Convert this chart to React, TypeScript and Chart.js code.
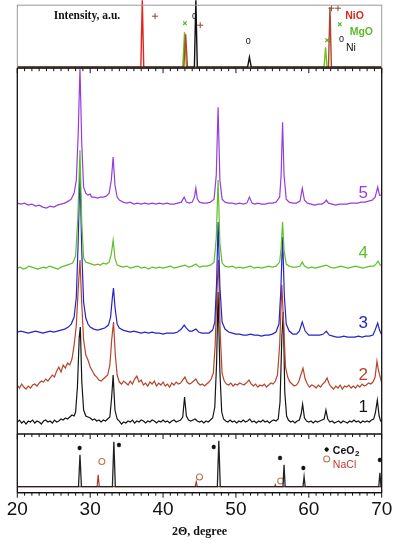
import React, { useEffect, useRef } from 'react';
import { Chart, registerables } from 'chart.js';

Chart.register(...registerables);

type Pt = [number, number];

// ---------- axis ----------
const X_MIN = 20;
const X_MAX = 70;
const X_TITLE = '2Θ, degree';

// ---------- top reference panel (NiO, MgO, Ni) ----------
const nioRef: Pt[] = [[20, 0], [36.95, 0], [37.15, 67], [37.35, 0], [42.85, 0], [43.1, 33], [43.35, 0], [62.7, 0], [62.9, 60], [63.1, 0], [70, 0]];
const mgoRef: Pt[] = [[20, 0], [42.7, 0], [42.95, 35], [43.2, 0], [62.1, 0], [62.3, 20], [62.5, 0], [70, 0]];
const niRef: Pt[] = [[20, 0], [44.3, 0], [44.5, 67], [44.7, 0], [51.6, 0], [51.85, 10], [52.1, 0], [70, 0]];
const nioMarks: Pt[] = [[38.9, 51], [45.1, 42], [63.1, 59], [64.0, 59]];
const mgoMarks: Pt[] = [[43.0, 44], [62.5, 27], [64.25, 43]];
const niMarks: Pt[] = [[44.3, 51], [51.7, 26], [64.5, 28]];

// ---------- main panel: samples 1..5 ----------
const sampleNames = ['1', '2', '3', '4', '5'];
const sampleOffsets = [12, 49, 102, 166, 229];

const sample1: Pt[] = [[20, 0], [20.3, 2], [20.6, -1], [20.9, 1], [21.2, -2], [21.5, 1], [21.8, 0], [22.1, 2], [22.4, -1], [22.7, 1], [23, 0], [23.3, -2], [23.6, 1], [23.9, 2], [24.2, 0], [24.5, 1], [24.8, -1], [25.1, 2], [25.4, 0], [25.7, 1], [26, 3], [26.3, 2], [26.6, 4], [26.9, 3], [27.2, 5], [27.5, 7], [27.8, 6], [28, 10], [28.25, 35], [28.5, 85], [28.65, 95], [28.85, 40], [29.1, 12], [29.4, 6], [29.7, 5], [30, 4], [30.3, 2], [30.6, 3], [30.9, 1], [31.2, 2], [31.5, 0], [31.8, 2], [32.1, 1], [32.4, 3], [32.7, 5], [32.95, 25], [33.15, 47], [33.4, 12], [33.7, 3], [34, 1], [34.3, -2], [34.6, 0], [34.9, -1], [35.2, 1], [35.5, 0], [35.8, 2], [36.1, -1], [36.4, 1], [36.7, 0], [37, 2], [37.3, 1], [37.6, -1], [37.9, 1], [38.2, 0], [38.5, 2], [38.8, 1], [39.1, -1], [39.4, 1], [39.7, 0], [40, 2], [40.3, 0], [40.6, 1], [40.9, -1], [41.2, 1], [41.5, 2], [41.8, 0], [42.1, 1], [42.4, 2], [42.7, 5], [42.95, 25], [43.2, 6], [43.5, 2], [43.8, 1], [44.1, 2], [44.4, 3], [44.7, 1], [45, 0], [45.3, 1], [45.6, -1], [45.9, 1], [46.2, 0], [46.5, 2], [46.8, 4], [47.1, 15], [47.35, 60], [47.55, 130], [47.8, 50], [48.05, 10], [48.3, 3], [48.6, 1], [48.9, 0], [49.2, 2], [49.5, 0], [49.8, 1], [50.1, -1], [50.4, 1], [50.7, 0], [51, 2], [51.3, 0], [51.6, 1], [51.9, 3], [52.2, 0], [52.5, 1], [52.8, -1], [53.1, 1], [53.4, 0], [53.7, 2], [54, 0], [54.3, 1], [54.6, -1], [54.9, 1], [55.2, 2], [55.5, 1], [55.8, 3], [56.05, 20], [56.3, 85], [56.5, 110], [56.7, 30], [56.95, 6], [57.2, 2], [57.5, 0], [57.8, 1], [58.1, -1], [58.4, 1], [58.7, 2], [58.95, 8], [59.15, 18], [59.4, 4], [59.7, 1], [60, 0], [60.3, 1], [60.6, -1], [60.9, 1], [61.2, 0], [61.5, 1], [61.8, 2], [62.1, 3], [62.35, 12], [62.6, 3], [62.9, 0], [63.2, 1], [63.5, -1], [63.8, 0], [64.1, 1], [64.4, -1], [64.7, 1], [65, 0], [65.3, -1], [65.6, 1], [65.9, 0], [66.2, 2], [66.5, 0], [66.8, 1], [67.1, -1], [67.4, 1], [67.7, 0], [68, 1], [68.3, 0], [68.6, 2], [68.9, 3], [69.15, 10], [69.4, 22], [69.65, 6], [69.85, 1], [70, 0]];

const sample2: Pt[] = [[20, 0], [20.3, -3], [20.6, 1], [20.9, -2], [21.2, -4], [21.5, -1], [21.8, -3], [22.1, 0], [22.4, 1], [22.7, -1], [23, 2], [23.3, 4], [23.6, 3], [23.9, 6], [24.2, 4], [24.5, 7], [24.8, 10], [25.1, 8], [25.4, 14], [25.7, 18], [26, 13], [26.3, 20], [26.6, 17], [26.9, 22], [27.2, 20], [27.5, 26], [27.8, 40], [28.1, 60], [28.35, 95], [28.6, 125], [28.85, 80], [29.1, 45], [29.4, 30], [29.7, 25], [30, 18], [30.3, 14], [30.6, 10], [30.9, 8], [31.2, 5], [31.5, 4], [31.8, 6], [32.1, 8], [32.4, 10], [32.7, 20], [32.95, 45], [33.2, 63], [33.45, 30], [33.7, 10], [34, 3], [34.3, 1], [34.6, 4], [34.9, 2], [35.2, 0], [35.5, 4], [35.8, 1], [36.1, 6], [36.4, 9], [36.7, 3], [37, 5], [37.3, 0], [37.6, 2], [37.9, -1], [38.2, 3], [38.5, 1], [38.8, 4], [39.1, -1], [39.4, 2], [39.7, 0], [40, 3], [40.3, -1], [40.6, 1], [40.9, -2], [41.2, 2], [41.5, 0], [41.8, 3], [42.1, 1], [42.4, 2], [42.7, 5], [43, 8], [43.3, 3], [43.6, 1], [43.9, 2], [44.2, 4], [44.5, 6], [44.8, 2], [45.1, 0], [45.4, 1], [45.7, -1], [46, 1], [46.3, 3], [46.6, 6], [46.9, 12], [47.15, 40], [47.4, 95], [47.6, 125], [47.85, 50], [48.1, 12], [48.4, 4], [48.7, 1], [49, 0], [49.3, 2], [49.6, -1], [49.9, 1], [50.2, 0], [50.5, 2], [50.8, 1], [51.1, 0], [51.4, 2], [51.8, 5], [52.1, 1], [52.4, -1], [52.7, 1], [53, -2], [53.3, 0], [53.6, -1], [53.9, 1], [54.2, -2], [54.5, 0], [54.8, 2], [55.1, 1], [55.4, 4], [55.7, 10], [56, 40], [56.3, 100], [56.55, 60], [56.8, 18], [57.1, 8], [57.4, 3], [57.7, 1], [58, -1], [58.3, 0], [58.6, 3], [58.9, 10], [59.2, 17], [59.5, 6], [59.8, 1], [60.1, -2], [60.4, 0], [60.7, -1], [61, -3], [61.3, 0], [61.6, -2], [61.9, 1], [62.2, 3], [62.5, 7], [62.8, 1], [63.1, -2], [63.4, -4], [63.7, -1], [64, -3], [64.3, 0], [64.6, -4], [64.9, -1], [65.2, -2], [65.5, 0], [65.8, -3], [66.1, -1], [66.4, -3], [66.7, 0], [67, -2], [67.3, 1], [67.6, -1], [67.9, 0], [68.2, 2], [68.5, 1], [68.8, 3], [69.1, 8], [69.35, 24], [69.55, 15], [69.8, 8], [70, 2]];

const sample3: Pt[] = [[20, 0], [20.5, 1], [21, 0], [21.5, -1], [22, 0], [22.5, 1], [23, 0], [23.5, -1], [24, 0], [24.5, 1], [25, 0], [25.5, 1], [26, 2], [26.5, 3], [27, 5], [27.4, 8], [27.8, 15], [28.1, 35], [28.35, 90], [28.6, 160], [28.85, 80], [29.1, 30], [29.4, 14], [29.7, 8], [30, 5], [30.5, 3], [31, 2], [31.5, 3], [32, 4], [32.5, 7], [32.8, 15], [33.05, 35], [33.2, 44], [33.4, 25], [33.7, 8], [34, 4], [34.5, 2], [35, 1], [35.5, 0], [36, 1], [36.5, 0], [37, -1], [37.5, 0], [38, -1], [38.5, 0], [39, -1], [39.5, -1], [40, -2], [40.5, -1], [41, -1], [41.5, -1], [42, 0], [42.5, 3], [42.9, 7], [43.2, 4], [43.6, 1], [44, 1], [44.5, 3], [44.9, 0], [45.3, -1], [45.8, -1], [46.3, -1], [46.8, 2], [47.1, 10], [47.35, 50], [47.55, 110], [47.8, 45], [48.1, 10], [48.5, 3], [49, 0], [49.5, -1], [50, -2], [50.5, -2], [51, -3], [51.5, -3], [52, -2], [52.5, -3], [53, -3], [53.5, -4], [54, -3], [54.5, -3], [55, -2], [55.5, 0], [55.9, 8], [56.15, 40], [56.4, 95], [56.65, 35], [56.9, 8], [57.3, 1], [57.8, -2], [58.3, -2], [58.7, 1], [59.1, 10], [59.5, 1], [60, -3], [60.5, -3], [61, -3], [61.5, -3], [62, -2], [62.4, 1], [62.8, -3], [63.3, -4], [63.8, -5], [64.3, -5], [64.8, -4], [65.3, -5], [65.8, -5], [66.3, -5], [66.8, -4], [67.3, -5], [67.8, -4], [68.3, -4], [68.8, -3], [69.1, 2], [69.45, 9], [69.7, 2], [70, -3]];

const sample4: Pt[] = [[20, 0], [20.4, 1], [20.8, -1], [21.2, 0], [21.6, 2], [22, 1], [22.4, 0], [22.8, -1], [23.2, 0], [23.6, 1], [24, 0], [24.4, 2], [24.8, 1], [25.2, 0], [25.6, -1], [26, 1], [26.4, 2], [26.8, 3], [27.2, 4], [27.6, 5], [28, 12], [28.3, 50], [28.6, 118], [28.85, 45], [29.1, 10], [29.4, 6], [29.8, 5], [30.2, 4], [30.6, 3], [31, 4], [31.4, 3], [31.8, 5], [32.2, 4], [32.6, 6], [32.9, 14], [33.15, 28], [33.4, 10], [33.7, 3], [34.1, 2], [34.5, 1], [35, 2], [35.5, 0], [36, 1], [36.5, 2], [37, 0], [37.5, 1], [38, -1], [38.5, 1], [39, 0], [39.5, 1], [40, 0], [40.5, 1], [41, 2], [41.5, 0], [42, 1], [42.5, 2], [43, 3], [43.5, 1], [44, 2], [44.5, 4], [45, 1], [45.5, 2], [46, 2], [46.5, 3], [47, 6], [47.3, 30], [47.55, 88], [47.8, 25], [48.1, 5], [48.5, 2], [49, 1], [49.5, 2], [50, 0], [50.5, 1], [51, 0], [51.5, 1], [52, 2], [52.5, 0], [53, 1], [53.5, 0], [54, 1], [54.5, 2], [55, 1], [55.5, 2], [56, 6], [56.2, 20], [56.4, 46], [56.6, 18], [56.9, 4], [57.3, 2], [57.8, 1], [58.3, 1], [58.8, 2], [59.1, 6], [59.4, 2], [59.9, 0], [60.4, 1], [60.9, 0], [61.4, 1], [61.9, 2], [62.4, 3], [62.9, 1], [63.4, 0], [63.9, 1], [64.4, 2], [64.9, 1], [65.4, 0], [65.9, 1], [66.4, 2], [66.9, 1], [67.4, 0], [67.9, 1], [68.4, 2], [68.9, 2], [69.2, 4], [69.5, 7], [69.8, 3], [70, 2]];

const sample5: Pt[] = [[20, 2], [20.5, 1], [21, 2], [21.5, 0], [22, 1], [22.5, -1], [23, 0], [23.5, -2], [24, -3], [24.5, -1], [25, -2], [25.5, 0], [26, 1], [26.5, 2], [27, 4], [27.4, 6], [27.8, 12], [28.1, 25], [28.35, 70], [28.6, 137], [28.85, 60], [29.1, 18], [29.4, 12], [29.7, 10], [30, 11], [30.2, 8], [30.6, 8], [31, 7], [31.4, 8], [31.8, 8], [32.2, 9], [32.6, 12], [32.9, 25], [33.15, 48], [33.4, 20], [33.7, 8], [34, 5], [34.5, 3], [35, 2], [35.5, 3], [36, 1], [36.5, 2], [37, 1], [37.5, 2], [38, 1], [38.5, 2], [39, 1], [39.5, 2], [40, 1], [40.5, 2], [41, 1], [41.5, 1], [42, 2], [42.5, 3], [42.9, 8], [43.2, 3], [43.6, 2], [44, 3], [44.3, 8], [44.5, 17], [44.7, 6], [45, 3], [45.5, 2], [46, 2], [46.5, 3], [47, 6], [47.3, 30], [47.55, 98], [47.8, 25], [48.1, 6], [48.5, 3], [49, 2], [49.5, 2], [50, 1], [50.5, 2], [51, 1], [51.5, 2], [51.85, 8], [52.2, 2], [52.6, 1], [53, 2], [53.5, 1], [54, 1], [54.5, 2], [55, 2], [55.5, 3], [56, 8], [56.2, 30], [56.4, 83], [56.6, 30], [56.9, 6], [57.3, 3], [57.8, 2], [58.3, 2], [58.8, 4], [59.1, 17], [59.4, 5], [59.8, 2], [60.3, 1], [60.8, 0], [61.3, 1], [61.8, 1], [62.2, 3], [62.4, 5], [62.7, 2], [63.2, 1], [63.7, 0], [64.2, 1], [64.7, 1], [65.2, 1], [65.7, 2], [66.2, 2], [66.7, 2], [67.2, 3], [67.7, 3], [68.2, 4], [68.7, 5], [69.1, 8], [69.45, 18], [69.7, 10], [70, 10]];

const samples: Pt[][] = [sample1, sample2, sample3, sample4, sample5];
const sampleColors = ['#151515', '#b5452a', '#2424c8', '#5fbf2a', '#963cdc'];

// ---------- bottom reference panel (CeO2, NaCl) ----------
const ceo2Ref: Pt[] = [[20, 0], [28.4, 0], [28.6, 32], [28.8, 0], [33.05, 0], [33.25, 45], [33.45, 0], [47.45, 0], [47.65, 46], [47.85, 0], [56.45, 0], [56.6, 22], [56.75, 0], [59.2, 0], [59.35, 10], [59.5, 0], [69.6, 0], [69.75, 14], [69.9, 0], [70, 0]];
const naclRef: Pt[] = [[20, 0], [30.95, 0], [31.1, 12], [31.25, 0], [44.4, 0], [44.55, 5], [44.7, 0], [55.3, 0], [55.4, 2], [55.5, 0], [70, 0]];
const ceo2Marks: Pt[] = [[28.55, 38.7], [33.95, 41.7], [46.95, 39.7], [56.05, 28.7], [59.25, 18.7], [69.75, 26.7], [62.45, 37.2]];
const naclMarks: Pt[] = [[31.6, 25.2], [45.0, 9.7], [56.14, 5.7], [62.45, 27.7]];

// ---------- text placed in panels ----------
type TextItem = { axis: string; x: number; y: number; text: string; font: string; color: string; align?: CanvasTextAlign; sub?: string };
const SANS = '"Liberation Sans", Arial, sans-serif';
const SERIF = '"Liberation Serif", "Times New Roman", serif';
const textItems: TextItem[] = [
  { axis: 'yTop', x: 25.0, y: 51, text: 'Intensity, a.u.', font: `bold 11.5px ${SERIF}`, color: '#111' },
  { axis: 'yTop', x: 65.0, y: 51, text: 'NiO', font: `bold 10.5px ${SANS}`, color: '#d42a1a' },
  { axis: 'yTop', x: 65.6, y: 35, text: 'MgO', font: `bold 10.5px ${SANS}`, color: '#5cb82a' },
  { axis: 'yTop', x: 65.1, y: 19, text: 'Ni', font: `10.5px ${SANS}`, color: '#111' },
  ...niMarks.map(([x, y]) => ({ axis: 'yTop', x, y, text: '0', font: `9px ${SANS}`, color: '#111', align: 'center' as CanvasTextAlign })),
  ...sampleNames.map((n, i) => ({ axis: 'yMain', x: 67.45, y: [27, 59, 111, 181, 241][i], text: n, font: `17px ${SANS}`, color: sampleColors[i], align: 'center' as CanvasTextAlign })),
  { axis: 'yBot', x: 63.3, y: 35.7, text: 'CeO', sub: '2', font: `bold 10.5px ${SANS}`, color: '#111' },
  { axis: 'yBot', x: 63.3, y: 21.7, text: 'NaCl', font: `10.5px ${SANS}`, color: '#c0392b' },
];

const toXY = (pts: Pt[], off = 0) => pts.map(([x, y]) => ({ x, y: y + off }));

const framePlugin = {
  id: 'frames',
  afterDatasetsDraw(chart: any) {
    const { ctx } = chart;
    const xs = chart.scales.x;
    const top = chart.scales.yTop;
    const main = chart.scales.yMain;
    const bot = chart.scales.yBot;
    const L = xs.left;
    const R = xs.right;
    ctx.save();
    // top panel frame
    ctx.strokeStyle = '#999';
    ctx.lineWidth = 1;
    ctx.strokeRect(L, top.top, R - L, top.bottom - top.top);
    // main and bottom panel sides and separators
    ctx.strokeStyle = '#111';
    ctx.lineWidth = 1.3;
    ctx.beginPath();
    ctx.moveTo(L, main.top); ctx.lineTo(L, bot.bottom);
    ctx.moveTo(R, main.top); ctx.lineTo(R, bot.bottom);
    ctx.moveTo(L, top.bottom); ctx.lineTo(R, top.bottom);
    ctx.moveTo(L, main.bottom); ctx.lineTo(R, main.bottom);
    ctx.moveTo(L, bot.bottom); ctx.lineTo(R, bot.bottom);
    ctx.stroke();
    // tick marks along the separators and the axis
    ctx.lineWidth = 1;
    ctx.beginPath();
    for (let v = X_MIN; v <= X_MAX; v++) {
      const px = xs.getPixelForValue(v);
      const major = v % 10 === 0;
      for (const yy of [top.bottom, main.bottom, bot.bottom]) {
        ctx.moveTo(px, yy);
        ctx.lineTo(px, yy + (major ? 5 : 3));
      }
    }
    ctx.stroke();
    // texts
    for (const t of textItems) {
      const ys = chart.scales[t.axis];
      const px = xs.getPixelForValue(t.x);
      const py = ys.getPixelForValue(t.y);
      ctx.font = t.font;
      ctx.fillStyle = t.color;
      ctx.textAlign = t.align || 'left';
      ctx.textBaseline = 'middle';
      ctx.fillText(t.text, px, py);
      if (t.sub) {
        const w = ctx.measureText(t.text).width;
        ctx.font = t.font.replace('10.5px', '8px');
        ctx.fillText(t.sub, px + w + 0.5, py + 3);
      }
    }
    ctx.restore();
  },
};

export default function App() {
  const ref = useRef<HTMLCanvasElement>(null);
  useEffect(() => {
    if (!ref.current) return;
    const nioRed = '#e52420';
    const nioBrown = '#b0452c';
    const lineBase = { type: 'line' as const, pointRadius: 0, tension: 0, fill: false };
    const chart = new Chart(ref.current, {
      type: 'line',
      data: {
        datasets: [
          // top panel
          { ...lineBase, label: 'Ni', data: toXY(niRef), yAxisID: 'yTop', borderColor: '#111', borderWidth: 1.4, clip: false as any },
          {
            ...lineBase, label: 'NiO', data: toXY(nioRef), yAxisID: 'yTop', borderColor: nioBrown, borderWidth: 1.4, clip: false as any,
            segment: { borderColor: (c: any) => (c.p1.parsed.x < 40 ? nioRed : nioBrown) },
          },
          { ...lineBase, label: 'MgO', data: toXY(mgoRef), yAxisID: 'yTop', borderColor: '#6cbf1c', borderWidth: 1.4 },
          { type: 'scatter' as const, label: 'NiO marks', data: toXY(nioMarks), yAxisID: 'yTop', pointStyle: 'cross', pointRadius: 3, borderColor: '#8a4a30', borderWidth: 1, showLine: false },
          { type: 'scatter' as const, label: 'MgO marks', data: toXY(mgoMarks), yAxisID: 'yTop', pointStyle: 'crossRot', pointRadius: 2.5, borderColor: '#5cb82a', borderWidth: 1.2, showLine: false },
          // main panel, sample 5 on top
          ...[4, 3, 2, 1, 0].map((i) => ({
            ...lineBase,
            label: sampleNames[i],
            data: toXY(samples[i], sampleOffsets[i]),
            yAxisID: 'yMain',
            borderColor: sampleColors[i],
            borderWidth: 1.2,
          })),
          // bottom panel
          { ...lineBase, label: 'CeO2', data: toXY(ceo2Ref), yAxisID: 'yBot', borderColor: '#222', borderWidth: 1.3 },
          { ...lineBase, label: 'NaCl', data: toXY(naclRef), yAxisID: 'yBot', borderColor: '#b03a2e', borderWidth: 1.2 },
          { type: 'scatter' as const, label: 'CeO2 marks', data: toXY(ceo2Marks), yAxisID: 'yBot', pointStyle: 'star', pointRadius: 2.2, borderColor: '#111', borderWidth: 1.2, showLine: false },
          { type: 'scatter' as const, label: 'NaCl marks', data: toXY(naclMarks), yAxisID: 'yBot', pointStyle: 'circle', pointRadius: 3, borderColor: '#b77a50', backgroundColor: 'rgba(0,0,0,0)', borderWidth: 1.1, showLine: false },
        ] as any,
      },
      options: {
        animation: false,
        responsive: false,
        events: [],
        layout: { padding: { left: 17.3, right: 13.3, top: 5, bottom: 7 } },
        plugins: { legend: { display: false }, tooltip: { enabled: false } },
        scales: {
          x: {
            type: 'linear',
            min: X_MIN,
            max: X_MAX,
            afterFit: (s: any) => { s.height = 50.3; s.paddingLeft = 0; s.paddingRight = 0; },
            ticks: { stepSize: 10, color: '#111', font: { family: SANS, size: 19 }, padding: 6, maxRotation: 0 },
            grid: { display: true, drawOnChartArea: false, drawTicks: false, color: '#111' },
            border: { display: true, color: '#111', width: 1.3 },
            title: { display: true, text: X_TITLE, color: '#111', font: { family: SERIF, size: 12, weight: 'bold' }, padding: { top: 2, bottom: 4 } },
          },
          yTop: { type: 'linear', display: false, min: -1, max: 62, stack: 'panels', stackWeight: 63, weight: 3 },
          yMain: { type: 'linear', display: false, min: 0, max: 366, stack: 'panels', stackWeight: 366, weight: 2 },
          yBot: { type: 'linear', display: false, min: -6, max: 52.7, stack: 'panels', stackWeight: 58.7, weight: 1 },
        } as any,
      },
      plugins: [framePlugin],
    });
    return () => chart.destroy();
  }, []);
  return (
    <div style={{ position: 'fixed', left: 0, top: 0, width: 395, height: 550, background: '#fff' }}>
      <canvas ref={ref} width={395} height={550} style={{ display: 'block', width: 395, height: 550 }} />
    </div>
  );
}
